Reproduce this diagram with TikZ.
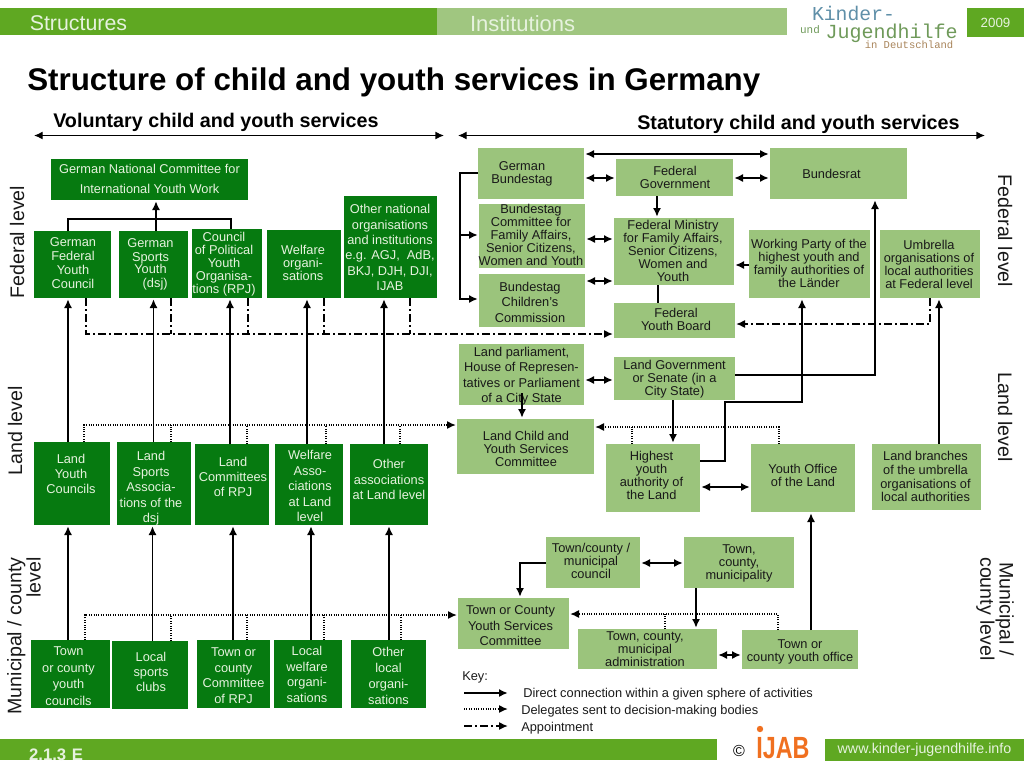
\documentclass[tikz,border=0pt]{standalone}
\usepackage{fontspec}
\usetikzlibrary{arrows.meta}
\setmainfont{Liberation Sans}
\newfontfamily\logofont{Liberation Mono}
\definecolor{darkbox}{HTML}{067A10}
\definecolor{lightbox}{HTML}{9BC47C}
\definecolor{barcol}{HTML}{5FA822}
\definecolor{barlight}{HTML}{A0C680}
\definecolor{paletext}{HTML}{E6F2DE}
\definecolor{logoblue}{HTML}{5F8FA8}
\definecolor{logogreen}{HTML}{6F9A5A}
\definecolor{logobrown}{HTML}{A8845A}
\definecolor{ijab}{HTML}{F07020}
% shift a text block inside its box: dx right, dy up (pixels)
\newcommand{\tx}[3]{\raisebox{.75\dimexpr#2pt-2pt\relax}[\height][\depth]{\kern1.5\dimexpr#1pt\relax\begin{tabular}{@{}c@{}}#3\end{tabular}}}
\tikzset{
  size/.style 2 args={minimum width=#1*0.75pt,minimum height=#2*0.75pt},
  lead/.style={font=\fontsize{9.6}{#1}\selectfont},
  dbox/.style={fill=darkbox,text=paletext,inner sep=0pt,outer sep=0pt,lead=11.25},
  lbox/.style={fill=lightbox,text=black!90,inner sep=0pt,outer sep=0pt,lead=9.2},
  bar/.style={inner sep=0pt,outer sep=0pt},
  side/.style={font=\fontsize{14.7}{14.5}\selectfont,text=black!90,inner sep=0pt},
  link/.style={line width=1pt,->,shorten >=1pt},
  both/.style={line width=1pt,<->,shorten >=1pt,shorten <=1pt},
  wire/.style={line width=1pt},
  dotlink/.style={line width=.8pt,densely dotted,->,shorten >=1pt},
  dotwire/.style={line width=.8pt,densely dotted},
  dashlink/.style={line width=.8pt,dash pattern=on 6pt off 2.5pt on 1pt off 2.5pt,->,shorten >=1pt},
  dashwire/.style={line width=.8pt,dash pattern=on 6pt off 2.5pt on 1pt off 2.5pt},
  keytext/.style={anchor=west,inner sep=0pt,font=\fontsize{9.6}{11}\selectfont,text=black!90}
}
\begin{document}
\begin{tikzpicture}[x=0.75pt,y=-0.75pt,>={Latex[length=6.5pt,width=6pt]}]
  \useasboundingbox (0,0) rectangle (1024,768);
  % header
  \node[bar,fill=barcol,size={437}{27},text=paletext,font=\fontsize{16}{18}\selectfont,text width=283pt,align=left] (hstruct) at (218.5,21.5) {\raisebox{-1.5pt}[\height][\depth]{Structures}};
  \node[bar,fill=barlight,size={350}{27},text=paletext,font=\fontsize{16.5}{18}\selectfont,text width=213pt,align=left] (hinst) at (612,21.5) {\raisebox{-1.5pt}[\height][\depth]{Institutions}};
  \node[bar,fill=barcol,size={57}{29},text=paletext,font=\fontsize{10}{12}\selectfont] (hyear) at (995.5,22.5) {2009};
  \node[inner sep=0pt,font=\logofont\fontsize{14.8}{16}\selectfont,text=logoblue] (logoa) at (853.5,13) {Kinder-};
  \node[inner sep=0pt,font=\logofont\fontsize{8.2}{9}\selectfont,text=logogreen] (logob) at (810,30) {und};
  \node[inner sep=0pt,font=\logofont\fontsize{15}{16}\selectfont,text=logogreen] (logoc) at (891.5,33) {Jugendhilfe};
  \node[inner sep=0pt,font=\logofont\fontsize{7.9}{9}\selectfont,text=logobrown] (logod) at (909,45) {in Deutschland};
  \node[anchor=west,inner sep=0pt,font=\bfseries\fontsize{23.5}{26}\selectfont] (title) at (27,82) {Structure of child and youth services in Germany};
  \node[anchor=west,inner sep=0pt,font=\bfseries\fontsize{14.8}{17}\selectfont] (volhead) at (53,122) {Voluntary child and youth services};
  \node[anchor=west,inner sep=0pt,font=\bfseries\fontsize{14.8}{17}\selectfont] (stathead) at (637,124) {Statutory child and youth services};
  \coordinate (vola) at (34,135.5);
  \coordinate (volb) at (444,135.5);
  \coordinate (stata) at (458,135.5);
  \coordinate (statb) at (985,135.5);
  \draw[<->,line width=1pt] (vola) -- (volb);
  \draw[<->,line width=1pt] (stata) -- (statb);
  % side labels
  \node[side,rotate=90] (lfed) at (17,242) {Federal level};
  \node[side,rotate=90] (lland) at (15,431) {Land level};
  \node[side,rotate=90,align=right] (lmun) at (24,636) {Municipal / county\\level};
  \node[side,rotate=-90] (rfed) at (1005,231) {Federal level};
  \node[side,rotate=-90] (rland) at (1005,417) {Land level};
  \node[side,rotate=-90,align=center] (rmun) at (995,609) {Municipal /\\county level};
  % voluntary, federal
  \node[dbox,size={197}{41},lead=15] (natcomm) at (149.5,179.5) {\tx{0}{2}{German National Committee for\\International Youth Work}};
  \node[dbox,size={77}{67},lead=10.5] (gfyc) at (72.5,264.5) {\tx{.5}{2}{German\\Federal\\Youth\\Council}};
  \node[dbox,size={69}{67},lead=10.5] (dsj) at (153.5,264.5) {\tx{-3}{2}{German\\Sports\\[-1.5pt]Youth\\\hspace*{7pt}(dsj)}};
  \node[dbox,size={70}{69},lead=9.5] (rpj) at (227,263.5) {\tx{-3}{1}{Council\\of Political\\Youth\\Organisa-\\tions (RPJ)}};
  \node[dbox,size={74}{68},lead=9] (welfare) at (304,264) {\tx{-1}{1}{Welfare\\organi-\\sations}};
  \node[dbox,size={93}{102},lead=11.5] (others) at (390.5,247) {\tx{-.5}{0}{Other national\\organisations\\and institutions\\e.g. AGJ,~ AdB,\\BKJ, DJH, DJI,\\IJAB}};
  % voluntary, land
  \node[dbox,size={76}{83}] (lyc) at (72,483.5) {\tx{-1}{10.5}{Land\\Youth\\Councils}};
  \node[dbox,size={74}{83},lead=11.6] (lsa) at (154,483.5) {\tx{-3}{-3}{Land\\Sports\\Associa-\\tions of the\\dsj}};
  \node[dbox,size={74}{81}] (lcr) at (232,484.5) {\tx{1}{8.5}{Land\\Committees\\of RPJ}};
  \node[dbox,size={68}{81},lead=11.6] (wa) at (309,484.5) {\tx{1}{-1}{Welfare\\Asso-\\ciations\\at Land\\level}};
  \node[dbox,size={78}{81},lead=11.6] (oa) at (389,484.5) {\tx{0}{5.5}{Other\\associations\\at Land level}};
  % voluntary, municipal
  \node[dbox,size={79}{68},lead=12.5] (tyc) at (70.5,674) {\tx{-2}{-1}{Town\\or county\\youth\\councils}};
  \node[dbox,size={76}{68}] (lsc) at (150,675) {\tx{1}{4}{Local\\sports\\clubs}};
  \node[dbox,size={73}{68},lead=11.6] (tcc) at (233.5,674) {\tx{0}{-1}{Town or\\county\\Committee\\of RPJ}};
  \node[dbox,size={68}{68},lead=11.6] (lw) at (308,674) {\tx{-1}{0}{Local\\welfare\\organi-\\sations}};
  \node[dbox,size={75}{68},lead=12] (ol) at (388.5,674) {\tx{0}{-1}{Other\\local\\organi-\\sations}};
  % statutory, federal
  \node[lbox,size={106}{51}] (bundestag) at (531,173.5) {\tx{-9}{1.5}{German\\Bundestag}};
  \node[lbox,size={117}{37}] (gov) at (674.5,177.5) {\tx{.5}{.5}{Federal\\Government}};
  \node[lbox,size={137}{51}] (bundesrat) at (838.5,173.5) {\tx{-7}{0}{Bundesrat}};
  \node[lbox,size={106}{64}] (committee) at (532,236) {\tx{-1}{1.5}{Bundestag\\Committee for\\Family Affairs,\\Senior Citizens,\\Women and Youth}};
  \node[lbox,size={120}{67}] (ministry) at (674,251.5) {\tx{-1}{.5}{Federal Ministry\\for Family Affairs,\\Senior Citizens,\\Women and\\Youth}};
  \node[lbox,size={121}{68}] (working) at (809.5,264) {\tx{-.5}{1}{Working Party of the\\highest youth and\\family authorities of\\the Länder}};
  \node[lbox,size={100}{68}] (umbrella) at (930,264) {\tx{-1}{0}{Umbrella\\organisations of\\local authorities\\at Federal level}};
  \node[lbox,size={106}{53},lead=11.6] (children) at (532,300.5) {\tx{-2}{-1}{Bundestag\\Children's\\Commission}};
  \node[lbox,size={121}{35}] (board) at (674.5,320.5) {\tx{1.5}{1.5}{Federal\\Youth Board}};
  % statutory, land
  \node[lbox,size={125}{59},lead=11.5] (landparl) at (521.5,374.5) {\tx{0}{0}{Land parliament,\\House of Represen-\\tatives or Parliament\\of a City State}};
  \node[lbox,size={121}{43}] (landgov) at (674.5,378.5) {\tx{0}{.5}{Land Government\\or Senate (in a\\City State)}};
  \node[lbox,size={137}{55}] (landchild) at (525.5,446.5) {\tx{.5}{-2.5}{Land Child and\\Youth Services\\Committee}};
  \node[lbox,size={94}{68}] (highest) at (653,478) {\tx{-1.5}{2.5}{Highest\\youth\\authority of\\the Land}};
  \node[lbox,size={104}{68}] (youthland) at (803,478) {\tx{0}{3}{Youth Office\\of the Land}};
  \node[lbox,size={109}{66},lead=10.25] (branches) at (926.5,477) {\tx{-1}{.5}{Land branches\\of the umbrella\\organisations of\\local authorities}};
  % statutory, municipal
  \node[lbox,size={94}{51}] (council) at (593,562.5) {\tx{-2}{1.5}{Town/county /\\municipal\\council}};
  \node[lbox,size={110}{51}] (muni) at (739,562.5) {\tx{0}{.5}{Town,\\county,\\municipality}};
  \node[lbox,size={111}{51},lead=11.6] (townysc) at (513.5,623.5) {\tx{-3}{-1.5}{Town or County\\Youth Services\\Committee}};
  \node[lbox,size={139}{40}] (admin) at (647.5,649) {\tx{-2.5}{0}{Town, county,\\municipal\\administration}};
  \node[lbox,size={116}{39}] (townoffice) at (800,649.5) {\tx{0}{-.5}{Town or\\county youth office}};
  % voluntary connectors
  \draw[wire] (gfyc.north -| 68,0) |- (231,219) -- (rpj.north -| 231,0);
  \draw[link] (dsj.north -| 156,0) -- (natcomm.south -| 156,0);
  \foreach \x/\up/\lo in {68/gfyc/lyc,153.5/dsj/lsa,230/rpj/lcr,307/welfare/wa,384/others/oa} {
    \draw[link] (\lo.north -| \x,0) -- (\up.south -| \x,0);
  }
  \foreach \x/\up/\lo in {68/lyc/tyc,152.5/lsa/lsc,233/lcr/tcc,311/wa/lw,389/oa/ol} {
    \draw[link] (\lo.north -| \x,0) -- (\up.south -| \x,0);
  }
  \draw[dashlink] (gfyc.south -| 86,0) |- (board.west |- 0,334);
  \foreach \x/\up in {171/dsj,248/rpj,324/welfare,410/others} {
    \draw[dashwire] (\up.south -| \x,0) -- (\x,334);
  }
  \draw[dotlink] (lyc.north -| 84,0) |- (landchild.west |- 0,425);
  \foreach \x/\lo in {171/lsa,247/lcr,326/wa,400/oa} {
    \draw[dotwire] (\lo.north -| \x,0) -- (\x,425);
  }
  \draw[dotlink] (tyc.north -| 85,0) |- (townysc.west |- 0,615);
  \foreach \x/\lo in {171/lsc,247/tcc,324/lw,401/ol} {
    \draw[dotwire] (\lo.north -| \x,0) -- (\x,615);
  }
  % statutory connectors
  \draw[both] (bundestag.east |- 0,154) -- (bundesrat.west |- 0,154);
  \draw[both] (bundestag.east |- 0,178) -- (gov.west |- 0,178);
  \draw[both] (gov.east |- 0,178) -- (bundesrat.west |- 0,178);
  \draw[link] (gov.south -| 657,0) -- (ministry.north -| 657,0);
  \draw[both] (committee.east |- 0,239) -- (ministry.west |- 0,239);
  \draw[both] (children.east |- 0,281) -- (ministry.west |- 0,281);
  \draw[wire] (ministry.south -| 658,0) -- (board.north -| 658,0);
  \draw[link] (bundestag.west |- 0,173) -| (460,299) -- (children.west |- 0,299);
  \draw[link] (460,235) -- (committee.west |- 0,235);
  \draw[link] (working.west |- 0,265) -- (ministry.east |- 0,265);
  \draw[dashlink] (umbrella.south -| 930,0) |- (board.east |- 0,324);
  \draw[link] (landgov.east |- 0,375) -| (bundesrat.south -| 875,0);
  \draw[link] (highest.east |- 0,461) -| (725,402) -| (working.south -| 802,0);
  \draw[link] (branches.north -| 939,0) -- (umbrella.south -| 939,0);
  \draw[both] (landparl.east |- 0,380) -- (landgov.west |- 0,380);
  \draw[link] (522,393) -- (landchild.north -| 522,0);
  \draw[link] (landgov.south -| 673,0) -- (highest.north -| 673,0);
  \draw[both] (highest.east |- 0,487) -- (youthland.west |- 0,487);
  \draw[dotlink] (youthland.north -| 779,0) |- (landchild.east |- 0,427);
  \draw[dotwire] (highest.north -| 632,0) -- (632,427);
  \draw[link] (townoffice.north -| 811,0) -- (youthland.south -| 811,0);
  \draw[both] (council.east |- 0,563) -- (muni.west |- 0,563);
  \draw[link] (council.west |- 0,563) -| (townysc.north -| 520,0);
  \draw[link] (muni.south -| 696,0) -- (admin.north -| 696,0);
  \draw[both] (admin.east |- 0,655) -- (townoffice.west |- 0,655);
  \draw[dotlink] (townoffice.north -| 778,0) |- (townysc.east |- 0,614);
  \draw[dotwire] (admin.north -| 665,0) -- (665,614);
  % key
  \node[keytext] (keyhead) at (462,677) {Key:};
  \coordinate (keya) at (464,693);
  \coordinate (keyb) at (509,693);
  \coordinate (keyc) at (464,709);
  \coordinate (keyd) at (509,709);
  \coordinate (keye) at (464,726);
  \coordinate (keyf) at (509,726);
  \draw[link] (keya) -- (keyb);
  \draw[dotlink] (keyc) -- (keyd);
  \draw[dashlink] (keye) -- (keyf);
  \node[keytext] (keydirect) at (523,694) {Direct connection within a given sphere of activities};
  \node[keytext] (keydeleg) at (521,711) {Delegates sent to decision-making bodies};
  \node[keytext] (keyappoint) at (521,728) {Appointment};
  % footer
  \node[bar,fill=barcol,size={717}{21},text=paletext,font=\bfseries\fontsize{12.5}{14}\selectfont,text width=494pt,align=left,text depth=0pt] (fbar) at (358.5,749.5) {\raisebox{-8.5pt}[0pt][0pt]{2.1.3 E}};
  \node[bar,fill=barcol,size={199}{22},text=paletext,font=\fontsize{10.7}{12}\selectfont] (furl) at (924.5,750) {\raisebox{-1pt}{www.kinder-jugendhilfe.info}};
  \node[inner sep=0pt,font=\fontsize{12}{14}\selectfont] (fcopy) at (739,751) {©};
  \node[inner sep=0pt,text=ijab,font=\bfseries\fontsize{23}{26}\selectfont] (flogo) at (783,748) {\scalebox{.76}[1]{IJAB}};
  \fill[ijab] (760,729) circle (3.2);
\end{tikzpicture}
\end{document}
